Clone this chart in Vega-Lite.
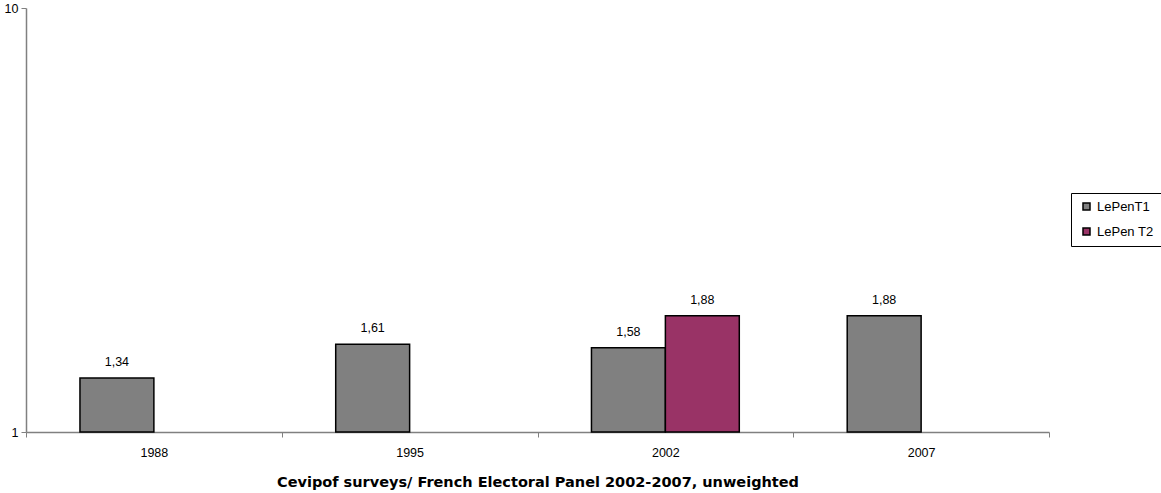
{
  "$schema": "https://vega.github.io/schema/vega-lite/v6.json",
  "width": 1023,
  "height": 424,
  "autosize": {"type": "none"},
  "padding": {"left": 26, "top": 8, "right": 112, "bottom": 61},
  "background": "white",
  "config": {
    "view": {"stroke": null},
    "font": "Arial",
    "axis": {"labelFont": "Arial"},
    "legend": {"labelFont": "Arial"},
    "text": {"font": "Arial"},
    "locale": {
      "number": {"decimal": ",", "thousands": ".", "grouping": [3], "currency": ["", " €"]}
    }
  },
  "data": {
    "values": [
      {"year": "1988", "series": "LePenT1", "value": 1.34},
      {"year": "1995", "series": "LePenT1", "value": 1.61},
      {"year": "2002", "series": "LePenT1", "value": 1.58},
      {"year": "2002", "series": "LePenT2", "value": 1.88},
      {"year": "2007", "series": "LePenT1", "value": 1.88}
    ]
  },
  "encoding": {
    "x": {
      "field": "year",
      "type": "nominal",
      "sort": null,
      "scale": {"paddingInner": 0, "paddingOuter": 0},
      "axis": {
        "title": "Cevipof surveys/ French Electoral Panel 2002-2007, unweighted",
        "titleFont": "DejaVu Sans",
        "titleFontSize": 14.5,
        "titleFontWeight": "bold",
        "titleColor": "black",
        "titleY": 50,
        "titleBaseline": "middle",
        "labelAngle": 0,
        "labelFontSize": 12.5,
        "labelColor": "black",
        "labelPadding": 9,
        "tickBand": "extent",
        "tickSize": 5,
        "tickColor": "#808080",
        "domainColor": "#808080",
        "domainWidth": 1.5
      }
    },
    "xOffset": {
      "field": "series",
      "type": "nominal",
      "scale": {"domain": ["LePenT1", "LePenT2"], "paddingInner": 0, "paddingOuter": 0.73}
    },
    "y": {
      "field": "value",
      "type": "quantitative",
      "scale": {"type": "log", "domain": [1, 10], "nice": false},
      "axis": {
        "title": null,
        "values": [1, 10],
        "format": "d",
        "labelFontSize": 12.5,
        "labelColor": "black",
        "labelPadding": 3,
        "tickSize": 5,
        "tickColor": "#808080",
        "domainColor": "#808080",
        "domainWidth": 1.5,
        "grid": false
      }
    }
  },
  "layer": [
    {
      "mark": {"type": "bar", "stroke": "black", "strokeWidth": 1.5},
      "encoding": {
        "y2": {"datum": 1},
        "color": {
          "field": "series",
          "type": "nominal",
          "scale": {"domain": ["LePenT1", "LePenT2"], "range": ["#808080", "#993366"]},
          "legend": {
            "title": null,
            "orient": "none",
            "legendX": 1045,
            "legendY": 185,
            "direction": "vertical",
            "strokeColor": "black",
            "fillColor": "white",
            "padding": 7,
            "symbolType": "square",
            "symbolSize": 49,
            "symbolOffset": 2,
            "symbolStrokeColor": "black",
            "symbolStrokeWidth": 1.5,
            "labelFontSize": 13,
            "labelColor": "black",
            "labelOffset": 4,
            "rowPadding": 11,
            "labelExpr": "datum.label == 'LePenT2' ? 'LePen T2' : datum.label"
          }
        }
      }
    },
    {
      "mark": {"type": "text", "baseline": "alphabetic", "dy": -12, "fontSize": 12.5, "color": "black", "font": "Arial"},
      "encoding": {
        "text": {"field": "value", "type": "quantitative", "format": ".2f"}
      }
    }
  ]
}
